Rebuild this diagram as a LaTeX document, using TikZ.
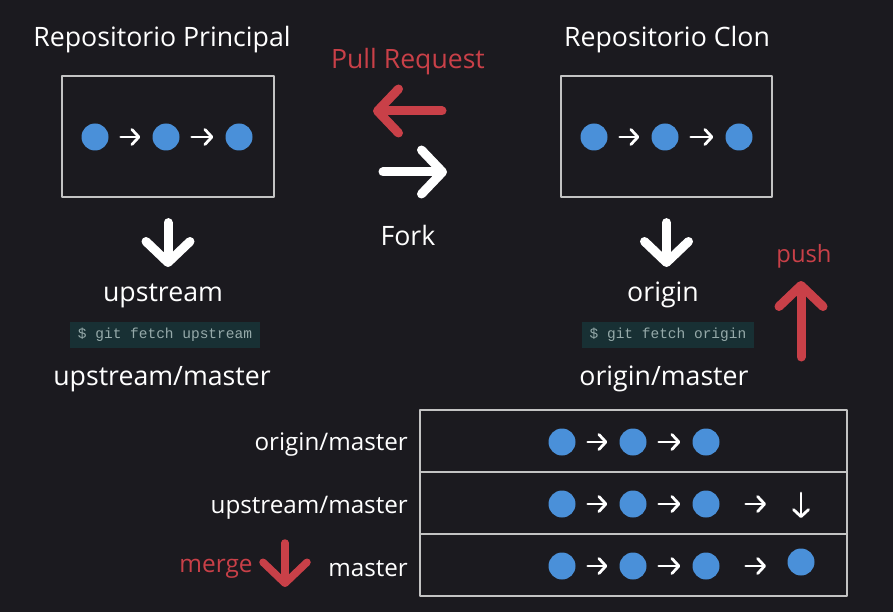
\documentclass[tikz,border=0pt]{standalone}
\usepackage{fontspec}
\setmainfont{Open Sans}
\setmonofont{Liberation Mono}
\usepackage{tikz}
\usetikzlibrary{arrows.meta}
\usepackage{xcolor}
\definecolor{bgdark}{RGB}{27,26,31}
\definecolor{dotblue}{RGB}{74,144,217}
\definecolor{gitred}{RGB}{201,64,72}
\definecolor{codebg}{RGB}{24,48,52}
\definecolor{codefg}{RGB}{150,170,170}
\definecolor{framegray}{RGB}{195,195,195}

\begin{document}
\begin{tikzpicture}[x=1pt,y=-1pt,line cap=round,line join=round,
  font=\fontsize{26.7}{30}\selectfont,
  lbl/.style={text=white,inner sep=0pt,anchor=base},
  redlbl/.style={text=gitred,inner sep=0pt,anchor=base,font=\fontsize{26.6}{30}\selectfont},
  rowlbl/.style={text=white,inner sep=0pt,anchor=base east,font=\fontsize{24.2}{28}\selectfont},
  frame/.style={draw=framegray,line width=1.2pt,minimum width=#1,minimum height=121pt},
  rowbox/.style={draw=framegray,line width=1.2pt,minimum width=427pt,minimum height=62pt},
  dot/.style={circle,fill=dotblue,inner sep=0pt,minimum size=27pt},
  hop/.style={draw=white,line width=2.8pt,shorten <=12pt,shorten >=12pt,
    -{Straight Barb[length=7pt,width=15pt,round]}},
  bigarrow/.style={line width=9pt,-{Straight Barb[length=21pt,width=44pt,round]}},
  cmd/.style={fill=codebg,text=codefg,inner xsep=8pt,minimum height=26pt,
    font=\ttfamily\fontsize{14.5}{16}\selectfont}]
\useasboundingbox[fill=bgdark] (0,0) rectangle (893,612);

% repositorio principal
\node[lbl] (maintitle) at (162,47) {Repositorio Principal};
\node[frame=212pt] (mainbox) at (168,136.5) {};
\node[dot] (m1) at (95,137) {};
\node[dot] (m2) at (166,137) {};
\node[dot] (m3) at (239,137) {};
\draw[hop] (m1) -- (m2);
\draw[hop] (m2) -- (m3);
\node[lbl] (upstream) at (163,301) {upstream};
\draw[bigarrow,white,shorten <=25pt,shorten >=34pt] (mainbox.south) -- (mainbox.south |- upstream.base);
\node[cmd] (fetchup) at (165,335) {\$ git fetch upstream};
\node[lbl] (upmaster) at (162,385) {upstream/master};

% repositorio clon
\node[lbl] (clontitle) at (667,47) {Repositorio Clon};
\node[frame=211pt] (clonbox) at (666.5,136.5) {};
\node[dot] (c1) at (594,137) {};
\node[dot] (c2) at (665,137) {};
\node[dot] (c3) at (739,137) {};
\draw[hop] (c1) -- (c2);
\draw[hop] (c2) -- (c3);
\node[lbl] (origin) at (663,301) {origin};
\draw[bigarrow,white,shorten <=25pt,shorten >=34pt] (clonbox.south) -- (clonbox.south |- origin.base);
\node[cmd] (fetchorig) at (668,335) {\$ git fetch origin};
\node[lbl] (origmaster) at (664,385) {origin/master};

% fork / pull request
\node[redlbl] (pullreq) at (408,69) {Pull Request};
\coordinate (prtail) at (442,111);
\coordinate (prhead) at (373,111);
\draw[bigarrow,gitred] (prtail) -- (prhead);
\coordinate (forktail) at (383,172);
\coordinate (forkhead) at (447,172);
\draw[bigarrow,white] (forktail) -- (forkhead);
\node[lbl] (fork) at (408,245) {Fork};

% push
\node[redlbl,font=\fontsize{23.8}{26}\selectfont] (push) at (804,262) {push};
\coordinate (pushtail) at (801,357);
\coordinate (pushhead) at (801,281);
\draw[bigarrow,gitred] (pushtail) -- (pushhead);

% ramas locales
\node[rowbox] (row1) at (633.5,441) {};
\node[rowbox] (row2) at (633.5,503) {};
\node[rowbox] (row3) at (633.5,565) {};
\node[rowlbl] (lblorig) at (408,450) {origin/master};
\node[rowlbl] (lblup) at (408,513) {upstream/master};
\node[rowlbl] (lblmaster) at (408,576) {master};

\node[dot] (o1) at (562,442) {};
\node[dot] (o2) at (633,442) {};
\node[dot] (o3) at (706,442) {};
\draw[hop] (o1) -- (o2);
\draw[hop] (o2) -- (o3);

\node[dot] (u1) at (562,504) {};
\node[dot] (u2) at (633,504) {};
\node[dot] (u3) at (706,504) {};
\coordinate (unew) at (801,504);
\coordinate (utop) at (801,493);
\coordinate (ubottom) at (801,518);
\draw[hop] (u1) -- (u2);
\draw[hop] (u2) -- (u3);
\draw[hop,shorten <=26pt,shorten >=35pt] (u3) -- (unew);
\draw[hop,shorten <=0pt,shorten >=0pt] (utop) -- (ubottom);

\node[dot] (w1) at (562,566) {};
\node[dot] (w2) at (633,566) {};
\node[dot] (w3) at (706,566) {};
\node[dot] (w4) at (801,562) {};
\draw[hop] (w1) -- (w2);
\draw[hop] (w2) -- (w3);
\draw[hop,shorten <=26pt,shorten >=35pt] (w3) -- (w3 -| w4);

% merge
\node[redlbl,font=\fontsize{24.4}{26}\selectfont] (merge) at (216,572) {merge};
\coordinate (mergetail) at (285,543);
\coordinate (mergehead) at (285,587);
\draw[bigarrow,gitred,line width=7.5pt] (mergetail) -- (mergehead);
\end{tikzpicture}
\end{document}
